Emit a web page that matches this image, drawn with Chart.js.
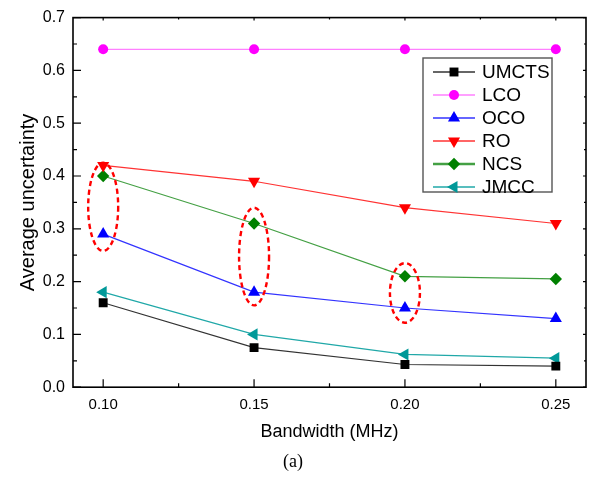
<!DOCTYPE html>
<html>
<head>
<meta charset="utf-8">
<script src="https://cdn.jsdelivr.net/npm/chart.js@4.4.1/dist/chart.umd.min.js"></script>
<style>
  html, body { margin: 0; padding: 0; background: #fff; }
  #wrap { width: 594px; height: 495px; }
</style>
</head>
<body>
<div id="wrap"><canvas id="c" width="594" height="495"></canvas></div>
<script>
// ---- Data ----
const bandwidth = [0.10, 0.15, 0.20, 0.25];
const seriesNames = ['UMCTS', 'LCO', 'OCO', 'RO', 'NCS', 'JMCC'];
const umcts = [0.160, 0.075, 0.043, 0.040];
const lco   = [0.640, 0.640, 0.640, 0.640];
const oco   = [0.290, 0.180, 0.150, 0.130];
const ro    = [0.420, 0.390, 0.340, 0.310];
const ncs   = [0.400, 0.310, 0.210, 0.205];
const jmcc  = [0.180, 0.100, 0.062, 0.055];
const xTickValues = [0.10, 0.15, 0.20, 0.25];
const xMinorValues = [0.125, 0.175, 0.225];
const yTickValues = [0.0, 0.1, 0.2, 0.3, 0.4, 0.5, 0.6, 0.7];
const yMinorValues = [0.05, 0.15, 0.25, 0.35, 0.45, 0.55, 0.65];
// annotation ellipses (x position, upper and lower value extent)
const ellipseX = [0.10, 0.15, 0.20];
const ellipseTop = [0.425, 0.340, 0.235];
const ellipseBottom = [0.258, 0.155, 0.122];

const allValues = [umcts, lco, oco, ro, ncs, jmcc];
const styles = [
  { line: '#333333', fill: '#000000', pointStyle: 'rect', rotation: 0, radius: 6.3 },
  { line: '#ff80ff', fill: '#ff00ff', pointStyle: 'circle', rotation: 0, radius: 5 },
  { line: '#3333ff', fill: '#0000ff', pointStyle: 'triangle', rotation: 0, radius: 7 },
  { line: '#ff3333', fill: '#ff0000', pointStyle: 'triangle', rotation: 180, radius: 7 },
  { line: '#44a044', fill: '#008000', pointStyle: 'rectRot', rotation: 0, radius: 6.2 },
  { line: '#20a8a8', fill: '#009999', pointStyle: 'triangle', rotation: -90, radius: 7 }
];

const datasets = seriesNames.map((name, i) => ({
  label: name,
  data: bandwidth.map((x, j) => ({ x: x, y: allValues[i][j] })),
  borderColor: styles[i].line,
  backgroundColor: styles[i].fill,
  pointBackgroundColor: styles[i].fill,
  pointBorderColor: styles[i].fill,
  pointBorderWidth: 0,
  pointStyle: styles[i].pointStyle,
  pointRotation: styles[i].rotation,
  pointRadius: styles[i].radius,
  pointHoverRadius: styles[i].radius,
  borderWidth: 1.2,
  tension: 0,
  fill: false
}));

const framePlugin = {
  id: 'frame',
  afterDatasetsDraw(chart) {
    const { ctx, chartArea: a, scales: { x, y } } = chart;
    ctx.save();
    // annotation ellipses
    ctx.strokeStyle = '#ff0000';
    ctx.lineWidth = 2.4;
    ctx.setLineDash([5, 3.5]);
    ellipseX.forEach((ex, i) => {
      const cx = x.getPixelForValue(ex);
      const yt = y.getPixelForValue(ellipseTop[i]);
      const yb = y.getPixelForValue(ellipseBottom[i]);
      ctx.beginPath();
      ctx.ellipse(cx, (yt + yb) / 2, 15, (yb - yt) / 2, 0, 0, Math.PI * 2);
      ctx.stroke();
    });
    ctx.setLineDash([]);
    // frame
    ctx.strokeStyle = '#000';
    ctx.lineWidth = 1.6;
    ctx.strokeRect(a.left, a.top, a.right - a.left, a.bottom - a.top);
    ctx.lineWidth = 1.2;
    ctx.beginPath();
    xTickValues.forEach(v => {
      const px = x.getPixelForValue(v);
      ctx.moveTo(px, a.bottom); ctx.lineTo(px, a.bottom - 8);
      ctx.moveTo(px, a.top); ctx.lineTo(px, a.top + 3);
    });
    xMinorValues.forEach(v => {
      const px = x.getPixelForValue(v);
      ctx.moveTo(px, a.bottom); ctx.lineTo(px, a.bottom - 4);
      ctx.moveTo(px, a.top); ctx.lineTo(px, a.top + 2);
    });
    yTickValues.forEach(v => {
      const py = y.getPixelForValue(v);
      ctx.moveTo(a.left, py); ctx.lineTo(a.left + 8, py);
      ctx.moveTo(a.right, py); ctx.lineTo(a.right - 3, py);
    });
    yMinorValues.forEach(v => {
      const py = y.getPixelForValue(v);
      ctx.moveTo(a.left, py); ctx.lineTo(a.left + 4, py);
      ctx.moveTo(a.right, py); ctx.lineTo(a.right - 2, py);
    });
    ctx.stroke();

    // legend
    const bx = 423, by = 58, bw = 129, bh = 134;
    ctx.fillStyle = '#fff';
    ctx.fillRect(bx, by, bw, bh);
    ctx.strokeStyle = '#555';
    ctx.lineWidth = 1.4;
    ctx.strokeRect(bx, by, bw, bh);
    ctx.font = '19px "Liberation Sans", Arial, sans-serif';
    ctx.textBaseline = 'middle';
    ctx.textAlign = 'left';
    chart.data.datasets.forEach((ds, i) => {
      const ry = by + 14 + i * 23;
      ctx.strokeStyle = ds.borderColor;
      ctx.lineWidth = i === 4 ? 2.5 : 1.3;
      ctx.beginPath();
      ctx.moveTo(bx + 10, ry); ctx.lineTo(bx + 52, ry);
      ctx.stroke();
      ctx.fillStyle = ds.pointBackgroundColor;
      Chart.helpers.drawPoint(ctx, {
        pointStyle: ds.pointStyle, rotation: ds.pointRotation,
        radius: ds.pointRadius, borderWidth: 0
      }, bx + 31, ry);
      ctx.fillStyle = '#000';
      ctx.fillText(ds.label, bx + 59, ry + 1);
    });
    ctx.restore();
  }
};

new Chart(document.getElementById('c'), {
  type: 'line',
  data: { datasets },
  options: {
    responsive: false,
    animation: false,
    events: [],
    layout: { padding: { top: 11, right: 8, left: 0, bottom: 0 } },
    plugins: {
      legend: { display: false },
      tooltip: { enabled: false },
      title: {
        display: true,
        position: 'bottom',
        text: '(a)',
        color: '#000',
        font: { family: '"Liberation Serif", "Times New Roman", serif', size: 18, weight: 'normal', lineHeight: 1.2 },
        padding: { top: 4, bottom: 22 }
      }
    },
    scales: {
      x: {
        type: 'linear',
        min: 0.09,
        max: 0.26,
        grid: { display: false, drawTicks: false },
        border: { display: false },
        afterBuildTicks(scale) { scale.ticks = xTickValues.map(v => ({ value: v })); },
        afterFit(scale) { scale.height = 60.2; },
        ticks: {
          color: '#000',
          padding: 9,
          maxRotation: 0,
          font: { family: '"Liberation Sans", Arial, sans-serif', size: 15 },
          callback: v => v.toFixed(2)
        },
        title: {
          display: true,
          text: 'Bandwidth (MHz)',
          color: '#000',
          font: { family: '"Liberation Sans", Arial, sans-serif', size: 18 },
          padding: { top: 0, bottom: 4.4 }
        }
      },
      y: {
        min: 0,
        max: 0.7,
        grid: { display: false, drawTicks: false },
        border: { display: false },
        afterBuildTicks(scale) { scale.ticks = yTickValues.map(v => ({ value: v })); },
        afterFit(scale) { scale.width = 73; },
        ticks: {
          color: '#000',
          padding: 8,
          font: { family: '"Liberation Sans", Arial, sans-serif', size: 16 },
          callback: v => v.toFixed(1)
        },
        title: {
          display: true,
          text: 'Average uncertainty',
          color: '#000',
          font: { family: '"Liberation Sans", Arial, sans-serif', size: 20 },
          padding: { top: 16, bottom: 0 }
        }
      }
    }
  },
  plugins: [framePlugin]
});
</script>
</body>
</html>
